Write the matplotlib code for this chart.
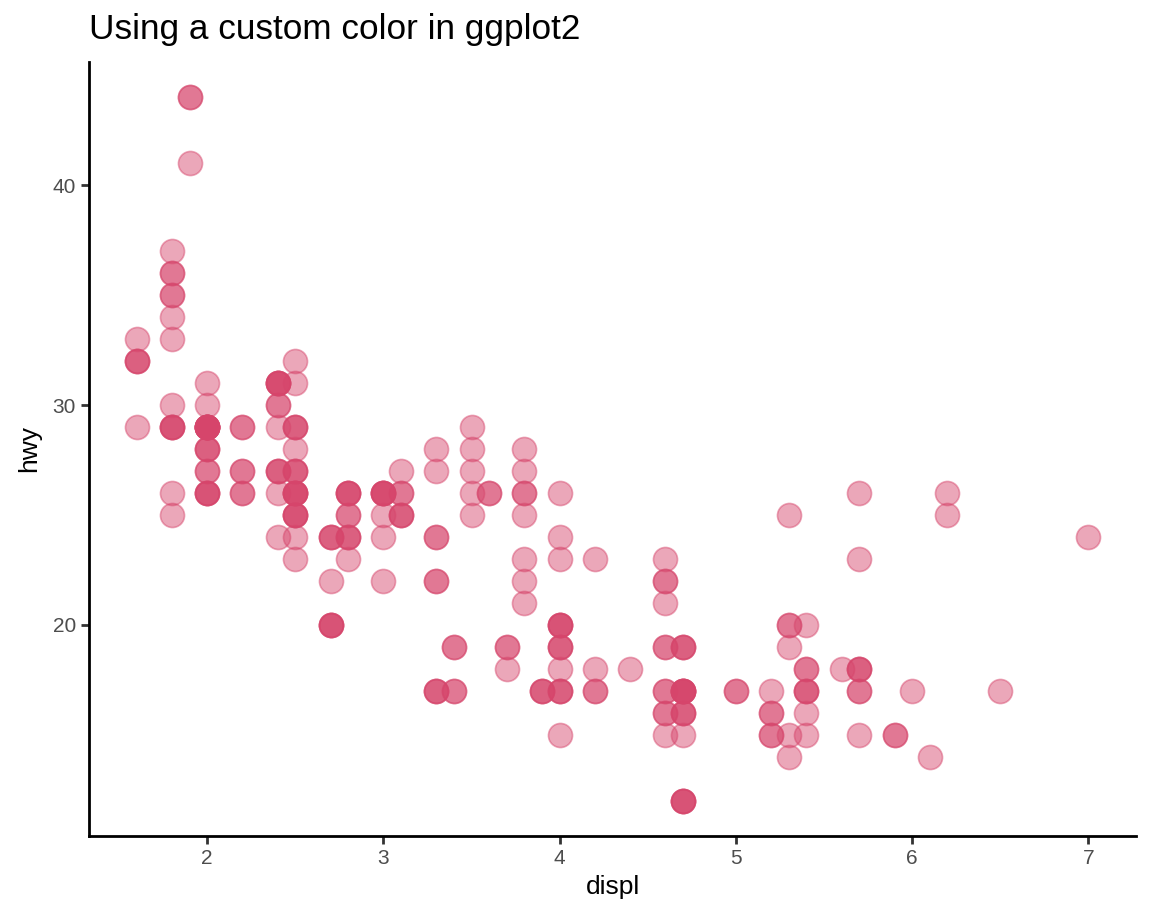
import matplotlib
matplotlib.use("Agg")
import matplotlib.pyplot as plt

plt.rcParams["font.family"] = ["Liberation Sans", "DejaVu Sans"]

# mpg data: engine displacement (L) and highway mileage (mpg)
displ = [1.8, 1.8, 2.0, 2.0, 2.8, 2.8, 3.1, 1.8, 1.8, 2.0, 2.0, 2.8, 2.8, 3.1, 3.1, 2.8, 3.1, 4.2,
         5.3, 5.3, 5.3, 5.7, 6.0, 5.7, 5.7, 6.2, 6.2, 7.0, 5.3, 5.3, 5.7, 6.5, 2.4, 2.4, 3.1, 3.5, 3.6,
         2.4, 3.0, 3.3, 3.3, 3.3, 3.3, 3.3, 3.8, 3.8, 3.8, 4.0, 3.7, 3.7, 3.9, 3.9, 4.7, 4.7, 4.7, 5.2, 5.2,
         3.9, 4.7, 4.7, 4.7, 5.2, 5.7, 5.9, 4.7, 4.7, 4.7, 4.7, 4.7, 4.7, 5.2, 5.2, 5.7, 5.9,
         4.6, 5.4, 5.4, 4.0, 4.0, 4.0, 4.0, 4.6, 5.0, 4.2, 4.2, 4.6, 4.6, 4.6, 5.4, 5.4,
         3.8, 3.8, 4.0, 4.0, 4.6, 4.6, 4.6, 4.6, 5.4,
         1.6, 1.6, 1.6, 1.6, 1.6, 1.8, 1.8, 1.8, 2.0,
         2.4, 2.4, 2.4, 2.4, 2.5, 2.5, 3.3, 2.0, 2.0, 2.0, 2.0, 2.7, 2.7, 2.7,
         3.0, 3.7, 4.0, 4.7, 4.7, 4.7, 5.7, 6.1, 4.0, 4.2, 4.4, 4.6, 5.4, 5.4, 5.4, 4.0, 4.0, 4.6, 5.0,
         2.4, 2.4, 2.5, 2.5, 3.5, 3.5, 3.0, 3.0, 3.5, 3.3, 3.3, 4.0, 5.6,
         3.1, 3.8, 3.8, 3.8, 5.3,
         2.5, 2.5, 2.5, 2.5, 2.5, 2.5, 2.2, 2.2, 2.5, 2.5, 2.5, 2.5, 2.5, 2.5,
         2.7, 2.7, 3.4, 3.4, 4.0, 4.7, 2.2, 2.2, 2.4, 2.4, 3.0, 3.0, 3.5, 2.2, 2.2, 2.4, 2.4, 3.0, 3.0, 3.3,
         1.8, 1.8, 1.8, 1.8, 1.8, 4.7, 5.7, 2.7, 2.7, 2.7, 3.4, 3.4, 4.0, 4.0,
         2.0, 2.0, 2.0, 2.0, 2.8, 1.9, 2.0, 2.0, 2.0, 2.0, 2.5, 2.5, 2.8, 2.8, 1.9, 1.9, 2.0, 2.0, 2.5, 2.5,
         1.8, 1.8, 2.0, 2.0, 2.8, 2.8, 3.6]
hwy = [29, 29, 31, 30, 26, 26, 27, 26, 25, 28, 27, 25, 25, 25, 25, 24, 25, 23,
       20, 15, 20, 17, 17, 26, 23, 26, 25, 24, 19, 14, 15, 17, 27, 30, 26, 29, 26,
       24, 24, 22, 22, 24, 24, 17, 22, 21, 23, 23, 19, 18, 17, 17, 19, 19, 12, 17, 15,
       17, 17, 12, 17, 16, 18, 15, 16, 12, 17, 17, 16, 16, 15, 16, 17, 15,
       17, 17, 18, 17, 19, 17, 19, 19, 17, 17, 17, 16, 16, 17, 15, 17,
       26, 25, 26, 24, 21, 22, 23, 22, 20,
       33, 32, 32, 29, 32, 34, 36, 36, 29,
       26, 27, 30, 31, 26, 26, 28, 26, 29, 28, 27, 24, 24, 24,
       22, 19, 20, 17, 12, 19, 18, 14, 15, 18, 18, 15, 17, 16, 18, 17, 19, 19, 17,
       29, 27, 31, 32, 27, 26, 26, 25, 25, 17, 17, 20, 18,
       26, 26, 27, 28, 25,
       25, 24, 27, 25, 26, 23, 26, 26, 26, 26, 27, 25, 27, 25,
       20, 20, 19, 17, 20, 17, 29, 27, 31, 31, 26, 26, 28, 27, 29, 31, 31, 26, 26, 27,
       30, 33, 35, 37, 35, 15, 18, 20, 20, 22, 17, 19, 18, 20,
       29, 26, 29, 29, 24, 44, 29, 26, 29, 29, 29, 29, 23, 24, 44, 41, 29, 26, 28, 29,
       29, 29, 28, 29, 26, 26, 26]

point_color = "#D6456B"

fig = plt.figure(figsize=(11.52, 9.21), dpi=100)
ax = fig.add_axes([0.0773, 0.0923, 0.9088, 0.8404])

ax.scatter(displ, hwy, s=300, color=point_color, alpha=0.47,
           edgecolors=point_color, linewidths=1.2, zorder=3)

ax.set_xlim(1.33, 7.27)
ax.set_ylim(10.4, 45.6)
ax.set_xticks([2, 3, 4, 5, 6, 7])
ax.set_yticks([20, 30, 40])

for side in ["top", "right"]:
    ax.spines[side].set_visible(False)
for side in ["left", "bottom"]:
    ax.spines[side].set_linewidth(2)
    ax.spines[side].set_color("black")

ax.tick_params(axis="both", length=5.5, width=2, color="#333333",
               labelcolor="#4D4D4D", labelsize=15, pad=4)

ax.set_xlabel("displ", fontsize=19, labelpad=5)
ax.set_ylabel("hwy", fontsize=19, labelpad=8)

fig.text(0.0773, 0.968, "Using a custom color in ggplot2", fontsize=25.3,
         ha="left", va="center")

fig.savefig("out.png", dpi=100, facecolor="white")
